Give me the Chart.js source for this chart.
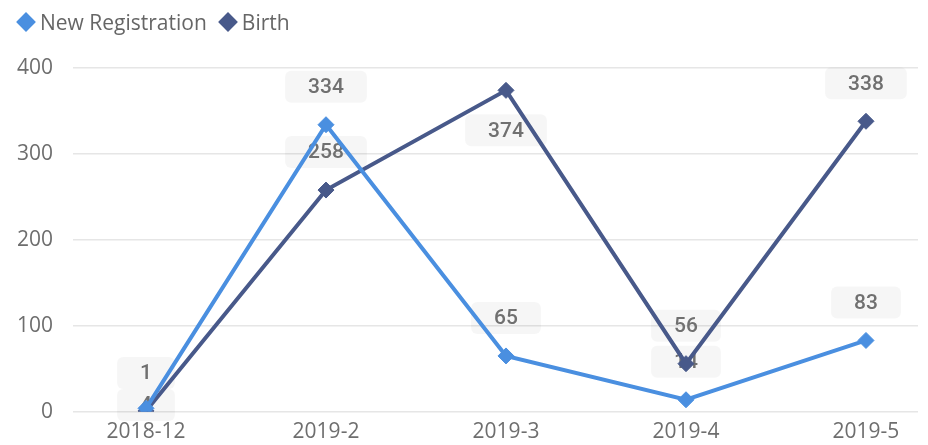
<!DOCTYPE html>
<html>
<head>
<meta charset="utf-8">
<script src="https://cdn.jsdelivr.net/npm/chart.js@4.4.1/dist/chart.umd.min.js"></script>
<style>
  html, body { margin: 0; padding: 0; background: #fff; }
  #wrap { width: 928px; height: 445px; position: relative; }
  #legend { position: absolute; left: 15px; top: 8px; font: 21px 'Open Sans'; color: #666; display: flex; align-items: center; }
  #legend span.item { display: flex; align-items: center; margin-right: 10px; }
  #legend i { display: inline-block; width: 14px; height: 14px; transform: rotate(45deg); margin: 0 7px 0 4px; }
</style>
</head>
<body>
<div id="wrap"><canvas id="chart"></canvas><div id="legend"></div></div>
<script>
const categories = ['2018-12', '2019-2', '2019-3', '2019-4', '2019-5']
const newRegistration = [4, 334, 65, 14, 83]
const birth = [1, 258, 374, 56, 338]
const yTicks = [0, 100, 200, 300, 400]

const blue = '#4a8fe0'
const navy = '#48598a'
const textGrey = '#6e6e6e'

// value labels with grey rounded boxes, drawn under the lines
const valueLabels = {
  id: 'valueLabels',
  beforeDatasetsDraw(chart) {
    const ctx = chart.ctx
    const area = chart.chartArea
    const h = 32
    ctx.save()
    ctx.font = '500 21px Roboto'
    ctx.textAlign = 'center'
    ctx.textBaseline = 'middle'
    const placed = {}
    // birth first, new registration gets pushed when they collide
    for (let d = chart.data.datasets.length - 1; d >= 0; d--) {
      const meta = chart.getDatasetMeta(d)
      meta.data.forEach((pt, i) => {
        const val = chart.data.datasets[d].data[i].y
        let y = pt.y - 38
        if (y < area.top - 5) y = pt.y + 40
        placed[i] = placed[i] || []
        placed[i].forEach(p => {
          if (Math.abs(p - y) < h) y = p + h
        })
        placed[i].push(y)
        const txt = String(val)
        const w = ctx.measureText(txt).width + 46
        ctx.fillStyle = 'rgba(0,0,0,0.035)'
        ctx.beginPath()
        ctx.roundRect(pt.x - w / 2, y - h / 2, w, h, 6)
        ctx.fill()
        ctx.fillStyle = '#707070'
        ctx.fillText(txt, pt.x, y + 1)
      })
    }
    ctx.restore()
  }
}

const ctx = document.getElementById('chart').getContext('2d')
const chart = new Chart(ctx, {
  type: 'line',
  data: {
    datasets: [{
      label: 'New Registration',
      data: categories.map((c, i) => ({ x: i, y: newRegistration[i] })),
      borderColor: blue,
      backgroundColor: blue,
      borderWidth: 4,
      pointStyle: 'rectRot',
      pointRadius: 8,
      pointBorderWidth: 1,
      pointHoverRadius: 8,
      tension: 0
    }, {
      label: 'Birth',
      data: categories.map((c, i) => ({ x: i, y: birth[i] })),
      borderColor: navy,
      backgroundColor: navy,
      borderWidth: 4,
      pointStyle: 'rectRot',
      pointRadius: 8,
      pointBorderWidth: 1,
      pointHoverRadius: 8,
      tension: 0
    }]
  },
  options: {
    responsive: true,
    maintainAspectRatio: false,
    animation: false,
    layout: { padding: { left: 0, right: 10, top: 68, bottom: 0 } },
    plugins: {
      tooltip: { enabled: false },
      legend: { display: false }
    },
    scales: {
      x: {
        type: 'linear',
        min: -0.4056,
        max: 4.289,
        afterBuildTicks: s => { s.ticks = categories.map((c, i) => ({ value: i })) },
        ticks: {
          callback: v => categories[v],
          color: textGrey,
          font: { family: 'Open Sans', size: 21 },
          padding: 0,
          maxRotation: 0,
          autoSkip: false
        },
        grid: { display: false },
        border: { display: false }
      },
      y: {
        min: 0,
        max: 400,
        afterBuildTicks: s => { s.ticks = yTicks.map(v => ({ value: v })) },
        afterFit: s => { s.width = 73 },
        ticks: {
          color: textGrey,
          font: { family: 'Open Sans', size: 21 },
          padding: 20
        },
        grid: { color: '#e6e6e6', lineWidth: 1.5, drawTicks: false },
        border: { display: false }
      }
    }
  },
  plugins: [valueLabels]
})

// html legend
const legend = document.getElementById('legend')
chart.data.datasets.forEach(ds => {
  const item = document.createElement('span')
  item.className = 'item'
  item.innerHTML = '<i style="background:' + ds.borderColor + '"></i>' + ds.label
  legend.appendChild(item)
})
</script>
</body>
</html>
